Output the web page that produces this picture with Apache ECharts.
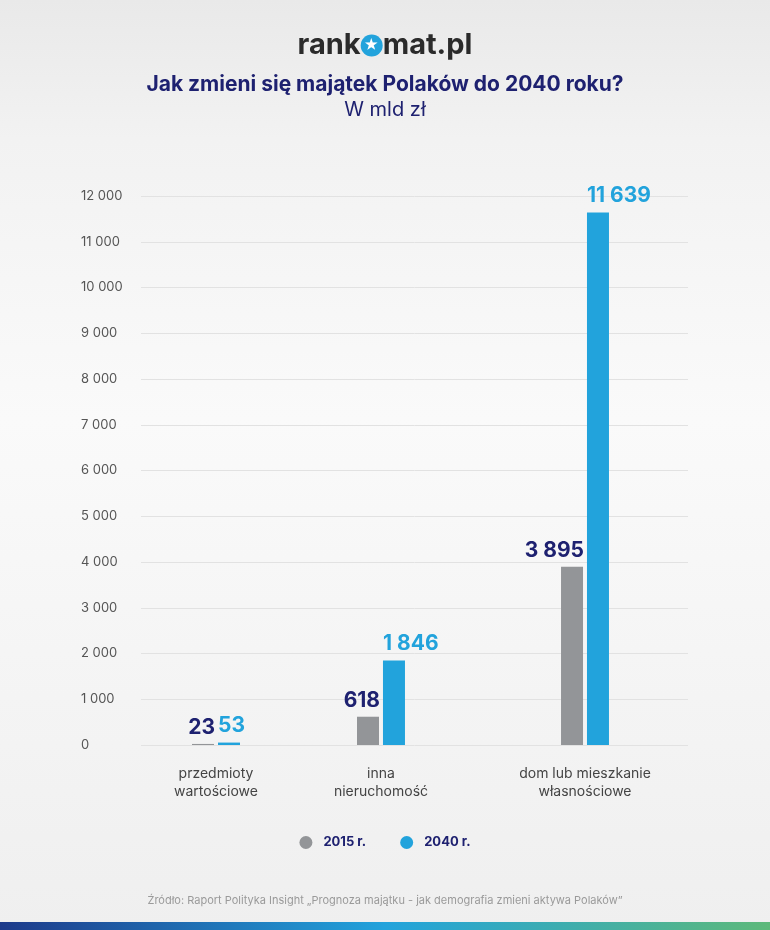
<!DOCTYPE html>
<html>
<head>
<meta charset="utf-8">
<script src="https://cdn.jsdelivr.net/npm/echarts@6/dist/echarts.min.js"></script>
<style>
html,body{margin:0;padding:0;background:#f4f4f4;}
#chart{width:770px;height:930px;}
</style>
</head>
<body>
<div id="chart"></div>
<script>
const categories = ['przedmioty\nwartościowe', 'inna\nnieruchomość', 'dom lub mieszkanie\nwłasnościowe'];
const values2015 = [23, 618, 3895];
const values2040 = [53, 1846, 11639];
const seriesNames = ['2015 r.', '2040 r.'];
const yTicks = { min: 0, max: 12000, interval: 1000 };

const FONT = 'Inter, "Noto Sans", sans-serif';
const NAVY = '#1e2170';
const BLUE = '#22a3dc';
const GRAY = '#939598';
const catCenters = [216, 381, 585];
const slotW = 120;
const gTop = 196, gBottom = 185;

function fmt(v) { return String(v).replace(/\B(?=(\d{3})+(?!\d))/g, ' '); }

const grids = [{ left: 141, right: 82, top: gTop, bottom: gBottom }];
const xAxes = [{ type: 'category', gridIndex: 0, data: [''], show: false }];
const yAxes = [{
  type: 'value', gridIndex: 0, min: yTicks.min, max: yTicks.max, interval: yTicks.interval,
  axisLine: { show: false }, axisTick: { show: false },
  splitLine: { lineStyle: { color: '#e2e2e2', width: 1 } },
  axisLabel: { align: 'left', margin: 60, fontFamily: FONT, fontSize: 13, color: '#555', formatter: v => fmt(v) }
}];
const series = [];
categories.forEach((c, i) => {
  grids.push({ left: catCenters[i] - slotW / 2, width: slotW, top: gTop, bottom: gBottom });
  xAxes.push({
    type: 'category', gridIndex: i + 1, data: [c],
    axisLine: { show: false }, axisTick: { show: false },
    axisLabel: { margin: 20, fontFamily: FONT, fontSize: 14, color: '#444', lineHeight: 18, interval: 0 }
  });
  yAxes.push({ type: 'value', gridIndex: i + 1, min: yTicks.min, max: yTicks.max, interval: yTicks.interval, show: false, splitLine: { show: false } });
  series.push({
    name: seriesNames[0], type: 'bar', xAxisIndex: i + 1, yAxisIndex: i + 1,
    data: [values2015[i]], barWidth: 22, barGap: '18%', itemStyle: { color: GRAY },
    label: { show: true, position: ['100%', 0], align: 'right', verticalAlign: 'bottom', offset: [1, -6],
      fontFamily: FONT, fontSize: 21, fontWeight: 'bold', color: NAVY, formatter: p => fmt(p.value) }
  });
  series.push({
    name: seriesNames[1], type: 'bar', xAxisIndex: i + 1, yAxisIndex: i + 1,
    data: [values2040[i]], barWidth: 22, barGap: '18%', itemStyle: { color: BLUE },
    label: { show: true, position: [0, 0], align: 'left', verticalAlign: 'bottom', offset: [0, -6],
      fontFamily: FONT, fontSize: 21, fontWeight: 'bold', color: BLUE, formatter: p => fmt(p.value) }
  });
});

const chart = echarts.init(document.getElementById('chart'), null, { renderer: 'canvas' });
chart.setOption({
  animation: false,
  backgroundColor: {
    type: 'linear', x: 0, y: 0, x2: 0, y2: 1,
    colorStops: [
      { offset: 0, color: '#e9e9e9' },
      { offset: 0.15, color: '#f2f2f2' },
      { offset: 0.45, color: '#fafafa' },
      { offset: 1, color: '#efefef' }
    ]
  },
  title: [
    {
      text: '{a|rank}{o|★}{a|mat.pl}', left: 'center', top: 26,
      textStyle: {
        rich: {
          a: { fontFamily: FONT, fontSize: 29, fontWeight: 'bold', color: '#2b2b2b' },
          o: { fontSize: 14, color: '#fff', backgroundColor: BLUE, borderRadius: 11, width: 22, height: 22, lineHeight: 22, align: 'center' }
        }
      }
    },
    {
      text: 'Jak zmieni się majątek Polaków do 2040 roku?', subtext: 'W mld zł', left: 'center', top: 69, itemGap: 5,
      textStyle: { fontFamily: FONT, fontSize: 21, fontWeight: 'bold', color: NAVY },
      subtextStyle: { fontFamily: FONT, fontSize: 20, color: NAVY }
    },
    {
      text: 'Źródło: Raport Polityka Insight „Prognoza majątku - jak demografia zmieni aktywa Polaków”',
      left: 'center', top: 890,
      textStyle: { fontFamily: FONT, fontSize: 11, fontWeight: 'normal', color: '#9a9a9a' }
    }
  ],
  legend: {
    data: seriesNames, top: 831, left: 'center', icon: 'circle', itemWidth: 13, itemHeight: 13,
    itemGap: 34, textStyle: { fontFamily: FONT, fontSize: 13, fontWeight: 'bold', color: NAVY, padding: [0, 0, 0, 6] }
  },
  grid: grids,
  xAxis: xAxes,
  yAxis: yAxes,
  series: series,
  graphic: [{
    type: 'rect', left: 0, top: 922, shape: { width: 770, height: 8 },
    style: {
      fill: {
        type: 'linear', x: 0, y: 0, x2: 1, y2: 0,
        colorStops: [
          { offset: 0, color: '#1d3a8a' },
          { offset: 0.5, color: '#22a3dc' },
          { offset: 1, color: '#5db97a' }
        ]
      }
    }
  }]
});
</script>
</body>
</html>
